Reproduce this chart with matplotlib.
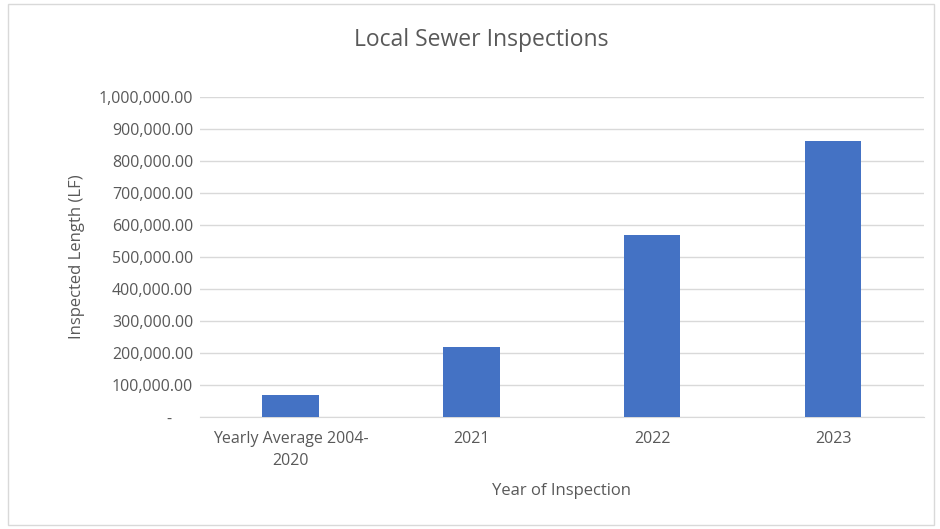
import matplotlib
matplotlib.use("Agg")
from matplotlib import pyplot as plt
from matplotlib.ticker import FuncFormatter
from matplotlib.patches import Rectangle

categories = ["Yearly Average 2004-\n2020", "2021", "2022", "2023"]
lengths = [70000, 218000, 568000, 862000]
yticks = [0, 100000, 200000, 300000, 400000, 500000, 600000, 700000, 800000, 900000, 1000000]

plt.rcParams['font.family'] = ['Open Sans', 'DejaVu Sans']

fig = plt.figure(figsize=(9.4, 5.29), dpi=100)
ax = fig.add_axes([0.2128, 0.2117, 0.770, 0.6049])

x = range(len(categories))
ax.bar(x, lengths, width=0.31, color="#4472c4", zorder=3)

ax.set_xlim(-0.5, len(categories) - 0.5)
ax.set_ylim(0, 1000000)
ax.set_yticks(yticks)

def fmt(v, pos):
    if v == 0:
        return "-     "
    return "{:,.2f}".format(v)

ax.yaxis.set_major_formatter(FuncFormatter(fmt))
ax.set_xticks(list(x))
ax.set_xticklabels(categories, linespacing=1.55)

ax.grid(axis="y", color="#d9d9d9", linewidth=1, zorder=0)
for s in ["top", "right", "left"]:
    ax.spines[s].set_visible(False)
ax.spines["bottom"].set_color("#d9d9d9")
ax.tick_params(axis="both", length=0, labelsize=11.5, labelcolor="#595959")
ax.tick_params(axis="y", pad=5)
ax.tick_params(axis="x", pad=10)

fig.text(0.512, 0.925, "Local Sewer Inspections", fontsize=16.5, color="#595959",
         ha="center", va="center")
ax.set_xlabel("Year of Inspection", fontsize=12, color="#595959", labelpad=10)
ax.set_ylabel("Inspected Length (LF)", fontsize=12, color="#595959", labelpad=10)

# outer chart border
fig.patches.append(Rectangle((0.009, 0.008), 0.985, 0.985, transform=fig.transFigure,
                             fill=False, edgecolor="#d9d9d9", linewidth=1))

fig.savefig("out.png", dpi=100)
